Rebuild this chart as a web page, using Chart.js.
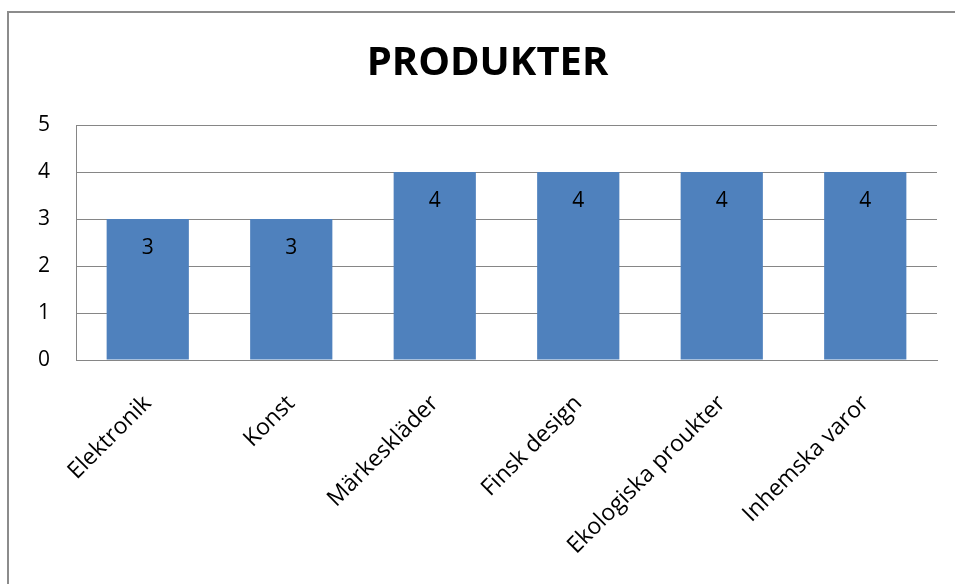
<!DOCTYPE html>
<html>
<head>
<meta charset="utf-8">
<script src="https://cdn.jsdelivr.net/npm/chart.js@4.4.0/dist/chart.umd.min.js"></script>
<style>
  html, body { margin: 0; padding: 0; background: #fff; overflow: hidden; }
  #frame { position: absolute; left: 7px; top: 11px; width: 1100px; height: 800px; border-left: 2px solid #8c8c8c; border-top: 2px solid #8c8c8c; }
  #wrap { position: absolute; left: 0; top: 0; width: 975px; height: 584px; }
</style>
</head>
<body>
<div id="frame"></div>
<div id="wrap"><canvas id="c" width="975" height="584"></canvas></div>
<script>
const chartTitle = "PRODUKTER";
const categories = ["Elektronik", "Konst", "Märkeskläder", "Finsk design", "Ekologiska proukter", "Inhemska varor"];
const values = [3, 3, 4, 4, 4, 4];
const yTicks = [0, 1, 2, 3, 4, 5];

const FONT = "'Open Sans', 'DejaVu Sans', sans-serif";

const barLabels = {
  id: 'barLabels',
  afterDatasetsDraw(chart) {
    const ctx = chart.ctx;
    const meta = chart.getDatasetMeta(0);
    ctx.save();
    ctx.font = "21px " + FONT;
    ctx.fillStyle = "#000";
    ctx.textAlign = "center";
    ctx.textBaseline = "middle";
    meta.data.forEach((bar, i) => {
      ctx.fillText(String(values[i]), bar.x, bar.y + 29.5);
    });
    ctx.restore();
  }
};

new Chart(document.getElementById('c'), {
  type: 'bar',
  data: {
    labels: categories,
    datasets: [{
      data: values,
      backgroundColor: '#4f81bd',
      borderWidth: 0,
      categoryPercentage: 1,
      barPercentage: 0.573
    }]
  },
  options: {
    responsive: false,
    animation: false,
    devicePixelRatio: 1,
    layout: { padding: { left: 0, right: 0, top: 0, bottom: 0 } },
    plugins: {
      legend: { display: false },
      tooltip: { enabled: false },
      title: {
        display: true,
        text: chartTitle,
        color: '#000',
        font: { family: FONT, size: 40, weight: 'bold', lineHeight: 1.2 },
        padding: { top: 40, bottom: 37 }
      }
    },
    scales: {
      x: {
        grid: { display: false, drawTicks: false },
        border: { display: true, color: '#868686', width: 1 },
        ticks: {
          color: '#000',
          font: { family: FONT, size: 23 },
          maxRotation: 45,
          minRotation: 45,
          padding: 30,
          autoSkip: false
        },
        afterFit(scale) { scale.height = 224; }
      },
      y: {
        min: 0,
        max: 5,
        afterBuildTicks(scale) { scale.ticks = yTicks.map(v => ({ value: v })); },
        grid: { color: '#868686', lineWidth: 1, drawTicks: false },
        border: { display: true, color: '#868686', width: 1 },
        ticks: {
          color: '#000',
          font: { family: FONT, size: 21 },
          padding: 26
        },
        afterFit(scale) { scale.width = 76; }
      },
      spacer: {
        position: 'right',
        display: true,
        min: 0,
        max: 1,
        grid: { display: false, drawTicks: false },
        border: { display: false },
        ticks: { display: false },
        afterFit(scale) { scale.width = 38; }
      }
    }
  },
  plugins: [barLabels]
});
</script>
</body>
</html>
